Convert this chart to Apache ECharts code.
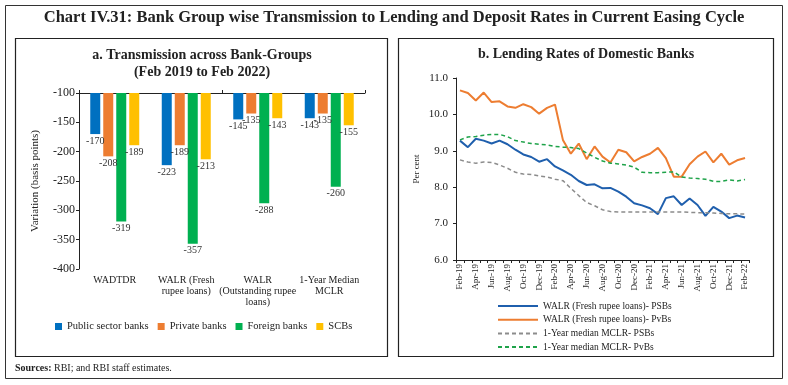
<!DOCTYPE html>
<html>
<head>
<meta charset="utf-8">
<script src="https://cdn.jsdelivr.net/npm/echarts@6/dist/echarts.min.js"></script>
<style>
html,body{margin:0;padding:0;background:#fff;}
#c{width:788px;height:385px;}
</style>
</head>
<body>
<div id="c"></div>
<script>
// ---- Panel a data ----
const barCategories = ['WADTDR', 'WALR (Fresh\nrupee loans)', 'WALR\n(Outstanding rupee\nloans)', '1-Year Median\nMCLR'];
const barSeriesNames = ['Public sector banks', 'Private banks', 'Foreign banks', 'SCBs'];
const psbVals = [-170, -223, -145, -143];
const pvtVals = [-208, -189, -135, -135];
const foreignVals = [-319, -357, -288, -260];
const scbVals = [-189, -213, -143, -155];
const barTicks = [-400, -350, -300, -250, -200, -150, -100];

// ---- Panel b data ----
const months = ['Feb-19','Mar-19','Apr-19','May-19','Jun-19','Jul-19','Aug-19','Sep-19','Oct-19','Nov-19','Dec-19','Jan-20',
  'Feb-20','Mar-20','Apr-20','May-20','Jun-20','Jul-20','Aug-20','Sep-20','Oct-20','Nov-20','Dec-20','Jan-21',
  'Feb-21','Mar-21','Apr-21','May-21','Jun-21','Jul-21','Aug-21','Sep-21','Oct-21','Nov-21','Dec-21','Jan-22','Feb-22'];
const lineSeriesNames = ['WALR (Fresh rupee loans)- PSBs', 'WALR (Fresh rupee loans)- PvBs', '1-Year median MCLR- PSBs', '1-Year median MCLR- PvBs'];
const walrPSB = [9.28,9.10,9.33,9.28,9.20,9.28,9.18,9.03,8.90,8.83,8.70,8.77,
  8.57,8.46,8.34,8.17,8.06,8.08,7.97,7.98,7.88,7.74,7.56,7.50,
  7.42,7.26,7.70,7.75,7.51,7.69,7.51,7.21,7.46,7.33,7.15,7.22,7.17];
const walrPvB = [10.66,10.59,10.38,10.60,10.34,10.36,10.22,10.18,10.28,10.20,10.02,10.18,
  10.27,9.30,8.92,9.20,8.77,9.12,8.84,8.68,9.03,8.96,8.71,8.83,
  8.92,9.08,8.80,8.29,8.29,8.63,8.84,8.98,8.68,8.92,8.62,8.74,8.80];
const mclrPSB = [8.75,8.69,8.66,8.69,8.68,8.61,8.52,8.41,8.36,8.35,8.31,8.28,
  8.22,8.18,7.97,7.77,7.58,7.49,7.38,7.33,7.32,7.32,7.32,7.32,
  7.32,7.32,7.32,7.32,7.32,7.31,7.30,7.30,7.29,7.28,7.27,7.27,7.26];
const mclrPvB = [9.30,9.38,9.39,9.43,9.45,9.45,9.39,9.28,9.24,9.20,9.18,9.16,
  9.12,9.10,9.09,9.06,8.94,8.82,8.72,8.66,8.64,8.61,8.55,8.41,
  8.40,8.40,8.41,8.42,8.28,8.25,8.24,8.22,8.16,8.16,8.20,8.17,8.21];

const FONT = '"Liberation Serif", "DejaVu Serif", serif';
const TXT = '#222';
const barColors = ['#0070C0', '#ED7D31', '#00B050', '#FFC000'];
const lineColors = ['#1F5FAD', '#ED7D31', '#8C8C8C', '#1FA34A'];

const chart = echarts.init(document.getElementById('c'), null, {renderer: 'canvas'});

const barVals = [psbVals, pvtVals, foreignVals, scbVals];
const barSeries = barVals.map((vals, i) => ({
  name: barSeriesNames[i],
  type: 'bar',
  xAxisIndex: 0,
  yAxisIndex: 0,
  data: vals,
  barWidth: 10,
  barGap: '30%',
  clip: true,
  itemStyle: {color: barColors[i]},
  label: {show: true, position: 'bottom', distance: 2, fontFamily: FONT, fontSize: 10, color: '#333'},
  animation: false
}));

const lineVals = [walrPSB, walrPvB, mclrPSB, mclrPvB];
const lineSeries = lineVals.map((vals, i) => ({
  name: lineSeriesNames[i],
  type: 'line',
  xAxisIndex: 2,
  yAxisIndex: 1,
  data: vals,
  symbol: 'none',
  lineStyle: {color: lineColors[i], width: i < 2 ? 2 : 1.5, type: i < 2 ? 'solid' : [4, 3]},
  itemStyle: {color: lineColors[i]},
  animation: false
}));

chart.setOption({
  animation: false,
  textStyle: {fontFamily: FONT, color: TXT},
  title: [
    {text: 'Chart IV.31: Bank Group wise Transmission to Lending and Deposit Rates in Current Easing Cycle',
     left: 394, top: 9, padding: 0, textAlign: 'center',
     textStyle: {fontFamily: FONT, fontSize: 16.5, fontWeight: 'bold', color: TXT}},
    {text: 'a. Transmission across Bank-Groups\n(Feb 2019 to Feb 2022)', left: 202, top: 47, padding: 0, textAlign: 'center',
     textStyle: {fontFamily: FONT, fontSize: 14, fontWeight: 'bold', color: TXT, lineHeight: 17}},
    {text: 'b. Lending Rates of Domestic Banks', left: 586, top: 47, padding: 0, textAlign: 'center',
     textStyle: {fontFamily: FONT, fontSize: 14, fontWeight: 'bold', color: TXT}},
    {text: '{b|Sources:} RBI; and RBI staff estimates.', left: 15, top: 363, padding: 0,
     textStyle: {fontFamily: FONT, fontSize: 10, fontWeight: 'normal', color: TXT,
       rich: {b: {fontFamily: FONT, fontSize: 10, fontWeight: 'bold', color: TXT}}}}
  ],
  graphic: [
    {type: 'rect', shape: {x: 5.5, y: 5.5, width: 777, height: 373}, style: {fill: 'none', stroke: '#333', lineWidth: 1}, silent: true},
    {type: 'rect', shape: {x: 15.5, y: 38.5, width: 372, height: 318}, style: {fill: 'none', stroke: '#222', lineWidth: 1.2}, silent: true},
    {type: 'rect', shape: {x: 398.5, y: 38.5, width: 375, height: 318}, style: {fill: 'none', stroke: '#222', lineWidth: 1.2}, silent: true}
  ],
  legend: [
    {data: barSeriesNames, left: 55, top: 321, padding: 0, icon: 'rect', itemWidth: 7, itemHeight: 7, itemGap: 9,
     textStyle: {fontFamily: FONT, fontSize: 10.5, color: TXT}},
    {data: lineSeriesNames, left: 497, top: 301, padding: 0, orient: 'vertical', itemWidth: 40, itemHeight: 8, itemGap: 3.7,
     itemStyle: {opacity: 0},
     textStyle: {fontFamily: FONT, fontSize: 9.5, color: TXT}}
  ],
  grid: [
    {left: 79, right: 423, top: 93, bottom: 116, containLabel: false},
    {left: 456, right: 39, top: 78, bottom: 125, containLabel: false}
  ],
  xAxis: [
    {type: 'category', gridIndex: 0, position: 'top', data: barCategories,
     axisLine: {lineStyle: {color: '#222', width: 1}}, axisTick: {show: true, length: 3, lineStyle: {color: '#222'}},
     axisLabel: {show: false}},
    {type: 'category', gridIndex: 0, position: 'bottom', data: barCategories,
     axisLine: {show: false}, axisTick: {show: false},
     axisLabel: {show: true, interval: 0, fontFamily: FONT, fontSize: 10, color: TXT, lineHeight: 11, margin: 6}},
    {type: 'category', gridIndex: 1, data: months, boundaryGap: true,
     axisLine: {onZero: false, lineStyle: {color: '#222', width: 1}},
     axisTick: {show: true, interval: 0, length: 3, lineStyle: {color: '#222'}},
     axisLabel: {interval: 1, rotate: 90, fontFamily: FONT, fontSize: 9, color: TXT, margin: 4}}
  ],
  yAxis: [
    {type: 'value', gridIndex: 0, min: -400, max: -100, interval: 50,
     name: 'Variation (basis points)', nameLocation: 'middle', nameGap: 38, nameRotate: 90,
     nameTextStyle: {fontFamily: FONT, fontSize: 11, color: TXT},
     axisLine: {show: true, lineStyle: {color: '#222', width: 1}}, axisTick: {show: true, length: 3, lineStyle: {color: '#222'}},
     splitLine: {show: false},
     axisLabel: {fontFamily: FONT, fontSize: 12, color: TXT, margin: 4}},
    {type: 'value', gridIndex: 1, min: 6, max: 11, interval: 1,
     name: 'Per cent', nameLocation: 'middle', nameGap: 35, nameRotate: 90,
     nameTextStyle: {fontFamily: FONT, fontSize: 9, color: TXT},
     axisLine: {show: true, lineStyle: {color: '#222', width: 1}}, axisTick: {show: true, length: 3, lineStyle: {color: '#222'}},
     splitLine: {show: false},
     axisLabel: {fontFamily: FONT, fontSize: 11, color: TXT, margin: 8, formatter: v => v.toFixed(1)}}
  ],
  series: barSeries.concat(lineSeries)
});
</script>
</body>
</html>
